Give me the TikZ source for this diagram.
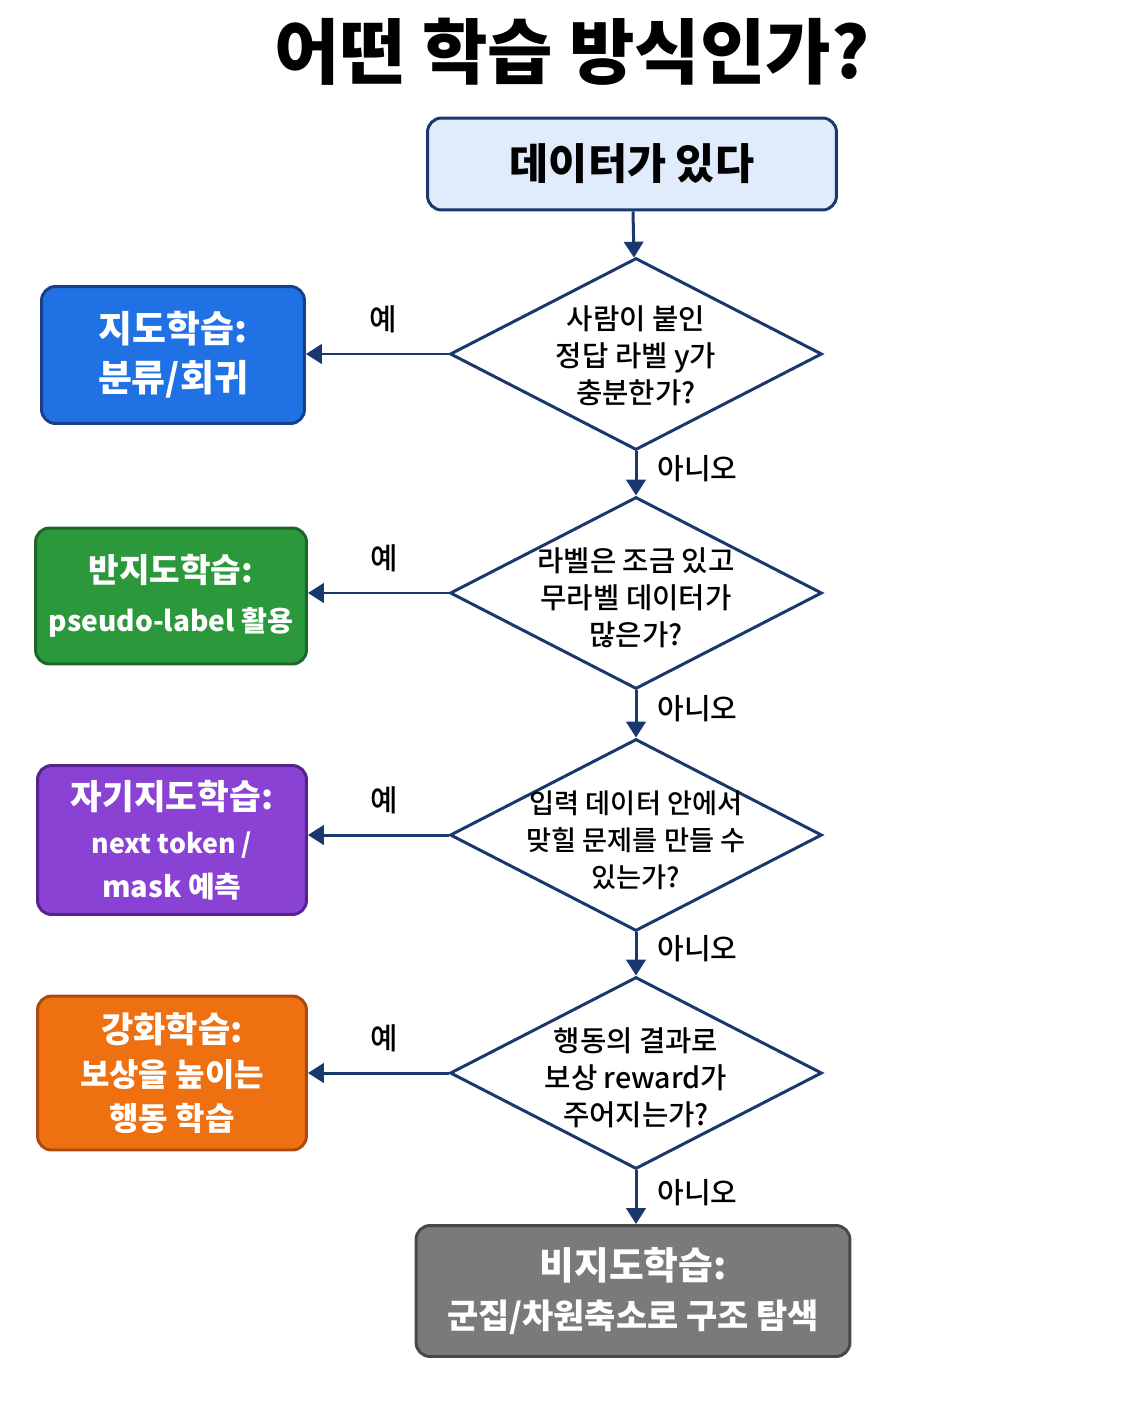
\documentclass[tikz,border=0pt]{standalone}
\usepackage{fontspec}
\setmainfont{Noto Sans CJK KR}
\newfontfamily\medfont{Noto Sans CJK KR Medium}
\usetikzlibrary{shapes.geometric,arrows.meta}
\definecolor{navy}{RGB}{24,56,110}
\definecolor{startfill}{RGB}{224,236,251}
\definecolor{supfill}{RGB}{32,114,228}
\definecolor{supline}{RGB}{24,62,140}
\definecolor{semifill}{RGB}{44,152,60}
\definecolor{semiline}{RGB}{28,102,42}
\definecolor{selffill}{RGB}{138,66,212}
\definecolor{selfline}{RGB}{86,36,140}
\definecolor{rlfill}{RGB}{238,112,16}
\definecolor{rlline}{RGB}{172,72,20}
\definecolor{unsfill}{RGB}{122,122,122}
\definecolor{unsline}{RGB}{72,72,72}
\begin{document}
\begin{tikzpicture}[x=0.02cm,y=-0.02cm,
  box/.style={rectangle,rounded corners=8pt,line width=1.7pt,text=white,align=center,inner sep=0pt,
    font=\bfseries\fontsize{21}{27.8}\selectfont},
  decision/.style={diamond,draw=navy,line width=1.7pt,fill=white,minimum width=7.44cm,minimum height=3.84cm,inner sep=0pt},
  qtext/.style={align=center,yshift=-0.1cm,font=\medfont\fontsize{16.3}{21}\selectfont},
  flow/.style={draw=navy,line width=1.7pt,-{Triangle[length=9pt,width=11pt]}},
  yes/.style={font=\medfont\fontsize{17}{17}\selectfont,above=8pt,xshift=0.12cm},
  no/.style={font=\medfont\fontsize{16.5}{16.5}\selectfont,right=8pt,yshift=0.1cm}]
\useasboundingbox (0,0) rectangle (1122,1402);
\node[font=\bfseries\fontsize{40.5}{40.5}\selectfont] (title) at (572,52) {어떤 학습 방식인가?};
\node[box,draw=navy,fill=startfill,text=black,minimum width=8.18cm,minimum height=1.84cm,
  font=\bfseries\fontsize{24.2}{24.2}\selectfont] (start) at (632,164) {데이터가 있다};
\node[decision] (q1) at (636,354) {};
\node[qtext,yshift=0.06cm] (q1txt) at (q1) {사람이 붙인\\정답 라벨 y가\\충분한가?};
\node[decision] (q2) at (636,593) {};
\node[qtext] (q2txt) at (q2) {라벨은 조금 있고\\무라벨 데이터가\\많은가?};
\node[decision] (q3) at (636,835) {};
\node[qtext,font=\medfont\fontsize{15.5}{21}\selectfont] (q3txt) at (q3) {입력 데이터 안에서\\맞힐 문제를 만들 수\\있는가?};
\node[decision] (q4) at (636,1073) {};
\node[qtext] (q4txt) at (q4) {행동의 결과로\\보상 reward가\\주어지는가?};
\node[box,draw=supline,fill=supfill,minimum width=5.26cm,minimum height=2.74cm] (sup) at (173,355)
  {지도학습:\\분류/회귀};
\node[box,draw=semiline,fill=semifill,minimum width=5.42cm,minimum height=2.72cm] (semi) at (171,596)
  {\fontsize{18.9}{26.5}\selectfont 반지도학습:\\\fontsize{16}{26.5}\selectfont pseudo-label 활용};
\node[box,draw=selfline,fill=selffill,minimum width=5.38cm,minimum height=2.98cm,
  font=\bfseries\fontsize{16.5}{25}\selectfont] (self) at (172,840)
  {\fontsize{19.6}{25}\selectfont 자기지도학습:\\\fontsize{15.2}{25}\selectfont next token /\\mask 예측};
\node[box,draw=rlline,fill=rlfill,minimum width=5.38cm,minimum height=3.08cm,
  font=\bfseries\fontsize{18.2}{25}\selectfont] (rl) at (172,1073)
  {\fontsize{20}{25}\selectfont 강화학습:\\보상을 높이는\\행동 학습};
\node[box,draw=unsline,fill=unsfill,minimum width=8.68cm,minimum height=2.62cm] (uns) at (633,1291)
  {\fontsize{21.5}{26}\selectfont 비지도학습:\\\fontsize{19.3}{26}\selectfont 군집/차원축소로 구조 탐색};
\draw[flow] (start) -- (q1);
\draw[flow] (q1) -- node[no]{아니오} (q2);
\draw[flow] (q2) -- node[no]{아니오} (q3);
\draw[flow] (q3) -- node[no]{아니오} (q4);
\draw[flow] (q4) -- node[no]{아니오} (q4 |- uns.north);
\draw[flow] (q1.west) -- node[yes]{예} (q1.west -| sup.east);
\draw[flow] (q2.west) -- node[yes]{예} (q2.west -| semi.east);
\draw[flow] (q3.west) -- node[yes]{예} (q3.west -| self.east);
\draw[flow] (q4.west) -- node[yes]{예} (q4.west -| rl.east);
\end{tikzpicture}
\end{document}
